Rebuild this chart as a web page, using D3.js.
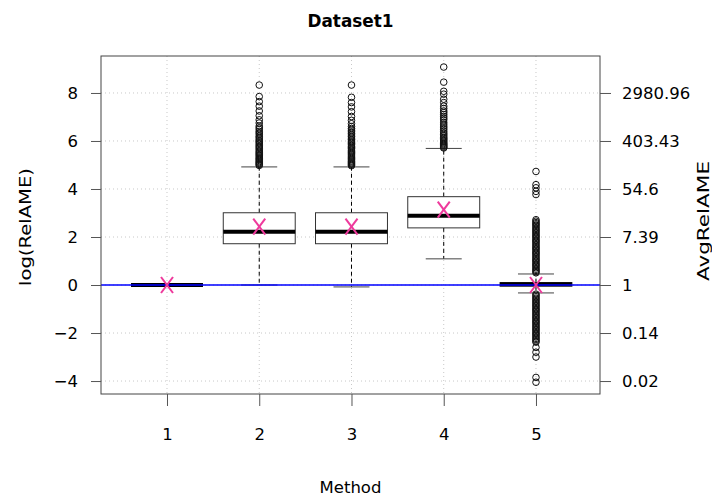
<!DOCTYPE html>
<html>
<head>
<meta charset="utf-8">
<script src="https://cdn.jsdelivr.net/npm/d3@7"></script>
<style>
  body { margin: 0; background: #fff; }
  text { font-family: "DejaVu Sans", sans-serif; }
</style>
</head>
<body>
<div id="chart"></div>
<script>
// box statistics per method (log scale values)
var methods = [1, 2, 3, 4, 5];
var q1 = [0, 1.72, 1.72, 2.38, -0.05];
var med = [0, 2.22, 2.22, 2.89, 0.03];
var q3 = [0, 3.01, 3.01, 3.68, 0.10];
var lowW = [0, 0, -0.08, 1.09, -0.33];
var highW = [0, 4.92, 4.92, 5.69, 0.46];
var means = [0, 2.43, 2.43, 3.14, 0.0];

// outliers
var out1 = [];
var out2 = [8.33, 7.85, 7.64, 7.45, 7.25, 7.05, 6.88, 6.75, 6.62, 6.55, 6.48, 6.4, 6.34, 6.28, 6.2, 6.15, 6.08, 6.02,
  5.97, 5.92, 5.86, 5.8, 5.75, 5.7, 5.64, 5.58, 5.53, 5.48, 5.43, 5.38, 5.33, 5.28, 5.24, 5.19, 5.14, 5.1, 5.06, 5.02, 4.98];
var out3 = [8.33, 7.82, 7.6, 7.42, 7.22, 7.02, 6.86, 6.72, 6.6, 6.52, 6.45, 6.38, 6.32, 6.25, 6.19, 6.12, 6.06, 6.0,
  5.95, 5.9, 5.84, 5.78, 5.73, 5.68, 5.62, 5.57, 5.52, 5.47, 5.42, 5.37, 5.32, 5.27, 5.22, 5.17, 5.13, 5.09, 5.05, 5.01, 4.97];
var out4 = [9.08, 8.45, 8.07, 7.95, 7.74, 7.6, 7.45, 7.35, 7.25, 7.18, 7.1, 7.02, 6.95, 6.88, 6.78, 6.7, 6.62, 6.55,
  6.48, 6.4, 6.33, 6.27, 6.21, 6.15, 6.1, 6.05, 6.0, 5.95, 5.9, 5.86, 5.82, 5.78, 5.74, 5.71];
var out5 = [4.73, 4.18, 4.05, 3.9, 3.77, 2.72, 2.66, 2.6, 2.55, 2.5, 2.44, 2.38, 2.32, 2.27, 2.22, 2.16, 2.1, 2.05,
  2.0, 1.94, 1.88, 1.83, 1.78, 1.72, 1.66, 1.6, 1.55, 1.5, 1.44, 1.38, 1.33, 1.28, 1.22, 1.16, 1.1, 1.05, 1.0,
  0.94, 0.88, 0.83, 0.78, 0.72, 0.66, 0.61, 0.56, 0.51,
  -0.38, -0.43, -0.49, -0.55, -0.6, -0.66, -0.72, -0.77, -0.83, -0.88, -0.94, -1.0, -1.05, -1.1, -1.16, -1.22,
  -1.27, -1.33, -1.38, -1.44, -1.5, -1.55, -1.6, -1.66, -1.72, -1.77, -1.83, -1.88, -1.94, -2.0, -2.05, -2.1,
  -2.16, -2.22, -2.27, -2.33, -2.38, -2.6, -2.8, -3.0, -3.85, -4.05];
var outliers = [out1, out2, out3, out4, out5];

var yTicks = [-4, -2, 0, 2, 4, 6, 8];
var rightLabels = ["0.02", "0.14", "1", "7.39", "54.6", "403.43", "2980.96"];

var width = 712, height = 497,
  margin = {left: 101, right: 112, top: 56, bottom: 103};

var svg = d3.select("#chart").append("svg")
  .attr("width", width)
  .attr("height", height);

var x = d3.scaleLinear().domain([0.2846, 5.694]).range([margin.left, width - margin.right]);
var y = d3.scaleLinear().domain([-4.54, 9.54]).range([height - margin.bottom, margin.top]);

var boxHalf = 0.39, capHalf = 0.195;

// grid
var grid = svg.append("g").attr("stroke", "#c8c8c8").attr("stroke-dasharray", "1,3");
grid.selectAll(".gx").data(methods).enter().append("line")
  .attr("x1", d => x(d)).attr("x2", d => x(d))
  .attr("y1", y.range()[1]).attr("y2", y.range()[0]);
grid.selectAll(".gy").data(yTicks).enter().append("line")
  .attr("y1", d => y(d)).attr("y2", d => y(d))
  .attr("x1", x.range()[0]).attr("x2", x.range()[1]);

var data = methods.map(function (m, i) {
  return {m: m, q1: q1[i], med: med[i], q3: q3[i], lo: lowW[i], hi: highW[i], mean: means[i], out: outliers[i]};
});

var g = svg.selectAll(".box").data(data).enter().append("g").attr("class", "box");

// whiskers
g.append("line")
  .attr("x1", d => x(d.m)).attr("x2", d => x(d.m))
  .attr("y1", d => y(d.q3)).attr("y2", d => y(d.hi))
  .attr("stroke", "#000").attr("stroke-dasharray", "4,3");
g.append("line")
  .attr("x1", d => x(d.m)).attr("x2", d => x(d.m))
  .attr("y1", d => y(d.q1)).attr("y2", d => y(d.lo))
  .attr("stroke", "#000").attr("stroke-dasharray", "4,3");
// caps
g.append("line")
  .attr("x1", d => x(d.m - capHalf)).attr("x2", d => x(d.m + capHalf))
  .attr("y1", d => y(d.hi)).attr("y2", d => y(d.hi))
  .attr("stroke", "#444");
g.append("line")
  .attr("x1", d => x(d.m - capHalf)).attr("x2", d => x(d.m + capHalf))
  .attr("y1", d => y(d.lo)).attr("y2", d => y(d.lo))
  .attr("stroke", "#444");
// box
g.append("rect")
  .attr("x", d => x(d.m - boxHalf))
  .attr("width", d => x(d.m + boxHalf) - x(d.m - boxHalf))
  .attr("y", d => y(d.q3))
  .attr("height", d => y(d.q1) - y(d.q3))
  .attr("fill", "#fff").attr("stroke", "#333");
// median
g.append("line")
  .attr("x1", d => x(d.m - boxHalf)).attr("x2", d => x(d.m + boxHalf))
  .attr("y1", d => y(d.med)).attr("y2", d => y(d.med))
  .attr("stroke", "#000").attr("stroke-width", 4);
// outliers
g.selectAll("circle").data(d => d.out.map(v => ({m: d.m, v: v}))).enter().append("circle")
  .attr("cx", d => x(d.m)).attr("cy", d => y(d.v)).attr("r", 3.3)
  .attr("fill", "none").attr("stroke", "#111").attr("stroke-width", 1);

// reference line at 0
svg.append("line")
  .attr("x1", x.range()[0]).attr("x2", x.range()[1])
  .attr("y1", y(0)).attr("y2", y(0))
  .attr("stroke", "#0000ff").attr("stroke-width", 1.3);

// means
var mg = svg.selectAll(".mean").data(data).enter().append("g")
  .attr("transform", d => "translate(" + x(d.m) + "," + y(d.mean) + ")")
  .attr("stroke", "#ee3a9c").attr("stroke-width", 2);
mg.append("line").attr("x1", -6).attr("y1", -8).attr("x2", 6).attr("y2", 8);
mg.append("line").attr("x1", 6).attr("y1", -8).attr("x2", -6).attr("y2", 8);

// frame
svg.append("rect")
  .attr("x", x.range()[0]).attr("y", y.range()[1])
  .attr("width", x.range()[1] - x.range()[0])
  .attr("height", y.range()[0] - y.range()[1])
  .attr("fill", "none").attr("stroke", "#444");

// axes
var xAxis = svg.append("g")
  .attr("transform", "translate(0," + y.range()[0] + ")")
  .call(d3.axisBottom(x).tickValues(methods).tickFormat(d3.format("d")).tickSize(12).tickPadding(22).tickSizeOuter(0));
var yAxis = svg.append("g")
  .attr("transform", "translate(" + x.range()[0] + ",0)")
  .call(d3.axisLeft(y).tickValues(yTicks).tickSize(10).tickPadding(13).tickSizeOuter(0));
var yAxis2 = svg.append("g")
  .attr("transform", "translate(" + x.range()[1] + ",0)")
  .call(d3.axisRight(y).tickValues(yTicks).tickFormat((d, i) => rightLabels[i]).tickSize(11).tickPadding(11).tickSizeOuter(0));

[xAxis, yAxis, yAxis2].forEach(function (a) {
  a.select(".domain").remove();
  a.selectAll(".tick line").attr("stroke", "#555");
  a.selectAll(".tick text").attr("font-size", 16.5).attr("fill", "#000")
    .style("font-family", "DejaVu Sans, sans-serif");
});

// titles
svg.append("text")
  .attr("x", 350.5).attr("y", 27)
  .attr("text-anchor", "middle")
  .attr("font-size", 18).attr("font-weight", "bold")
  .attr("textLength", 86).attr("lengthAdjust", "spacingAndGlyphs")
  .text("Dataset1");

svg.append("text")
  .attr("x", 350.5).attr("y", 493)
  .attr("text-anchor", "middle")
  .attr("font-size", 16.5)
  .text("Method");

svg.append("text")
  .attr("transform", "translate(31,227) rotate(-90)")
  .attr("text-anchor", "middle")
  .attr("font-size", 16.5)
  .attr("textLength", 118).attr("lengthAdjust", "spacingAndGlyphs")
  .text("log(RelAME)");

svg.append("text")
  .attr("transform", "translate(709,221) rotate(-90)")
  .attr("text-anchor", "middle")
  .attr("font-size", 16)
  .attr("textLength", 120).attr("lengthAdjust", "spacingAndGlyphs")
  .text("AvgRelAME");
</script>
</body>
</html>
